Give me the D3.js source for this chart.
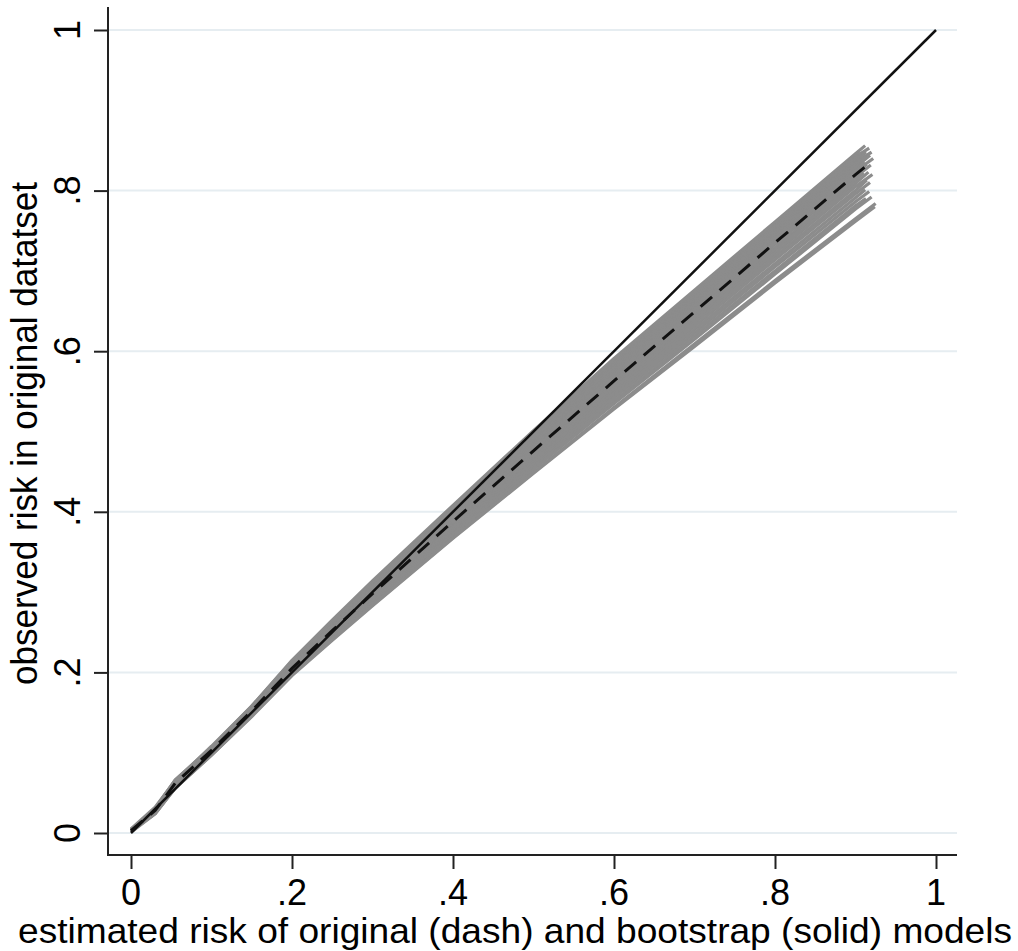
<!DOCTYPE html>
<html>
<head>
<meta charset="utf-8">
<script src="https://cdn.jsdelivr.net/npm/d3@7"></script>
<style>
  html, body { margin: 0; padding: 0; background: #ffffff; }
  svg text { font-family: "Liberation Sans", Arial, Helvetica, sans-serif; fill: #000; }
</style>
</head>
<body>
<svg id="chart" width="1018" height="951"></svg>
<script>
// Estimated-risk grid shared by all calibration curves
const riskGrid = [0, 0.03, 0.055, 0.1, 0.15, 0.2, 0.25, 0.3, 0.4, 0.5, 0.6, 0.7, 0.8, 0.9];

// Original model calibration (dashed), observed risk at each grid point, then its end point
const originalY = [0.003, 0.028, 0.062, 0.103, 0.152, 0.205, 0.252, 0.298, 0.388, 0.476, 0.563, 0.649, 0.735, 0.820];
const originalEnd = [0.915, 0.832];

// Bootstrap model calibrations (solid grey), observed risk at each grid point
const bootstrapY = [
  [0.004, 0.031, 0.066, 0.107, 0.158, 0.215, 0.265, 0.314, 0.408, 0.501, 0.591, 0.676, 0.761, 0.846],
  [0.003, 0.030, 0.064, 0.106, 0.157, 0.213, 0.263, 0.312, 0.406, 0.498, 0.588, 0.674, 0.759, 0.844],
  [0.005, 0.032, 0.065, 0.108, 0.158, 0.214, 0.264, 0.311, 0.405, 0.496, 0.585, 0.671, 0.756, 0.842],
  [0.003, 0.029, 0.063, 0.105, 0.156, 0.211, 0.261, 0.309, 0.403, 0.494, 0.583, 0.669, 0.755, 0.840],
  [0.004, 0.030, 0.066, 0.106, 0.157, 0.212, 0.262, 0.310, 0.401, 0.492, 0.581, 0.667, 0.753, 0.837],
  [0.002, 0.028, 0.062, 0.104, 0.155, 0.210, 0.259, 0.307, 0.400, 0.490, 0.579, 0.665, 0.750, 0.835],
  [0.003, 0.030, 0.064, 0.105, 0.155, 0.209, 0.258, 0.306, 0.398, 0.488, 0.576, 0.662, 0.748, 0.833],
  [0.004, 0.029, 0.063, 0.106, 0.156, 0.210, 0.258, 0.305, 0.397, 0.486, 0.574, 0.660, 0.746, 0.831],
  [0.003, 0.028, 0.061, 0.103, 0.154, 0.208, 0.256, 0.303, 0.395, 0.484, 0.572, 0.658, 0.744, 0.829],
  [0.002, 0.027, 0.062, 0.104, 0.153, 0.207, 0.255, 0.302, 0.393, 0.482, 0.570, 0.656, 0.742, 0.826],
  [0.004, 0.029, 0.063, 0.104, 0.154, 0.208, 0.255, 0.301, 0.392, 0.480, 0.567, 0.653, 0.739, 0.824],
  [0.003, 0.028, 0.062, 0.103, 0.152, 0.206, 0.253, 0.300, 0.390, 0.478, 0.565, 0.651, 0.736, 0.821],
  [0.002, 0.027, 0.060, 0.102, 0.151, 0.205, 0.252, 0.298, 0.388, 0.476, 0.562, 0.647, 0.733, 0.817],
  [0.003, 0.028, 0.061, 0.102, 0.152, 0.204, 0.251, 0.296, 0.385, 0.473, 0.559, 0.644, 0.729, 0.813],
  [0.004, 0.027, 0.060, 0.101, 0.150, 0.203, 0.250, 0.295, 0.384, 0.471, 0.557, 0.641, 0.726, 0.809],
  [0.002, 0.026, 0.059, 0.101, 0.150, 0.203, 0.249, 0.294, 0.382, 0.469, 0.554, 0.638, 0.722, 0.805],
  [0.003, 0.027, 0.060, 0.100, 0.149, 0.202, 0.248, 0.293, 0.381, 0.467, 0.551, 0.635, 0.718, 0.800],
  [0.002, 0.026, 0.058, 0.100, 0.149, 0.201, 0.247, 0.292, 0.379, 0.464, 0.548, 0.631, 0.714, 0.796],
  [0.003, 0.025, 0.059, 0.099, 0.148, 0.201, 0.246, 0.291, 0.377, 0.462, 0.545, 0.627, 0.709, 0.791],
  [0.002, 0.026, 0.058, 0.099, 0.148, 0.200, 0.245, 0.289, 0.375, 0.459, 0.542, 0.623, 0.705, 0.786],
  [0.003, 0.025, 0.057, 0.098, 0.147, 0.199, 0.244, 0.288, 0.373, 0.456, 0.538, 0.619, 0.700, 0.781],
  [0.002, 0.024, 0.057, 0.098, 0.146, 0.198, 0.243, 0.286, 0.371, 0.453, 0.535, 0.615, 0.696, 0.777],
  [0.001, 0.024, 0.056, 0.097, 0.146, 0.197, 0.241, 0.284, 0.368, 0.449, 0.530, 0.609, 0.688, 0.765],
  [0.002, 0.025, 0.056, 0.097, 0.145, 0.196, 0.240, 0.283, 0.367, 0.448, 0.528, 0.606, 0.685, 0.762]
];

// Highest estimated risk reached by each bootstrap curve [estimated, observed]
const bootstrapEnd = [
  [0.912, 0.856], [0.905, 0.848], [0.917, 0.853], [0.909, 0.847], [0.913, 0.848], [0.920, 0.848],
  [0.908, 0.839], [0.915, 0.844], [0.918, 0.844], [0.911, 0.836], [0.922, 0.840], [0.914, 0.833],
  [0.919, 0.832], [0.910, 0.822], [0.916, 0.823], [0.921, 0.820], [0.914, 0.813], [0.918, 0.810],
  [0.912, 0.801], [0.917, 0.799], [0.913, 0.790], [0.920, 0.792], [0.925, 0.784], [0.924, 0.780]
];

// Perfect-calibration reference line
const diagonal = [[0, 0], [1, 1]];

// Axis ticks and labels
const xTicks = [0, 0.2, 0.4, 0.6, 0.8, 1];
const yTicks = [0, 0.2, 0.4, 0.6, 0.8, 1];
const tickLabel = v => v === 0 ? "0" : v === 1 ? "1" : String(v).replace(/^0/, "");
const xTitle = "estimated risk of original (dash) and bootstrap (solid) models";
const yTitle = "observed risk in original datatset";

const svg = d3.select("#chart");

const x = d3.scaleLinear().domain([0, 1]).range([131, 936]);
const y = d3.scaleLinear().domain([0, 1]).range([833, 30]);

const axisLeft = 108, axisBottom = 855, axisRight = 957, axisTop = 7;

// Horizontal grid
svg.append("g")
  .selectAll("line")
  .data(yTicks)
  .join("line")
  .attr("x1", axisLeft + 1).attr("x2", axisRight)
  .attr("y1", d => y(d)).attr("y2", d => y(d))
  .attr("stroke", "#e6edf1").attr("stroke-width", 2);

// Y axis
const gy = svg.append("g")
  .attr("transform", `translate(${axisLeft},0)`)
  .call(d3.axisLeft(y).tickValues(yTicks).tickSize(14).tickPadding(0).tickFormat(""));
gy.select(".domain").remove();
gy.selectAll(".tick line").attr("stroke", "#222").attr("stroke-width", 2);
svg.append("line")
  .attr("x1", axisLeft).attr("x2", axisLeft)
  .attr("y1", axisTop).attr("y2", axisBottom + 1)
  .attr("stroke", "#222").attr("stroke-width", 2);

svg.append("g")
  .selectAll("text")
  .data(yTicks)
  .join("text")
  .attr("transform", d => `translate(80,${y(d)}) rotate(-90)`)
  .attr("text-anchor", "middle")
  .attr("font-size", 36)
  .text(tickLabel);

// X axis
const gx = svg.append("g")
  .attr("transform", `translate(0,${axisBottom})`)
  .call(d3.axisBottom(x).tickValues(xTicks).tickSize(14).tickPadding(0).tickFormat(""));
gx.select(".domain").remove();
gx.selectAll(".tick line").attr("stroke", "#222").attr("stroke-width", 2);
svg.append("line")
  .attr("x1", axisLeft - 1).attr("x2", axisRight)
  .attr("y1", axisBottom).attr("y2", axisBottom)
  .attr("stroke", "#222").attr("stroke-width", 2);

svg.append("g")
  .selectAll("text")
  .data(xTicks)
  .join("text")
  .attr("x", d => x(d))
  .attr("y", 905)
  .attr("text-anchor", "middle")
  .attr("font-size", 36)
  .text(tickLabel);

// Axis titles
svg.append("text")
  .attr("x", 18).attr("y", 943)
  .attr("font-size", 35)
  .attr("textLength", 994)
  .attr("lengthAdjust", "spacingAndGlyphs")
  .text(xTitle);

svg.append("text")
  .attr("transform", `translate(37,685) rotate(-90)`)
  .attr("font-size", 37)
  .attr("textLength", 503)
  .attr("lengthAdjust", "spacingAndGlyphs")
  .text(yTitle);

// Curves
const line = d3.line().x(d => x(d[0])).y(d => y(d[1]));
const toPoints = (ys, end) => riskGrid.map((g, i) => [g, ys[i]]).concat([end]);

svg.append("g")
  .selectAll("path")
  .data(bootstrapY.map((ys, i) => toPoints(ys, bootstrapEnd[i])))
  .join("path")
  .attr("d", line)
  .attr("fill", "none")
  .attr("stroke", "#8c8c8c")
  .attr("stroke-width", 3.2)
  .attr("stroke-linejoin", "round");

svg.append("path")
  .datum(diagonal)
  .attr("d", line)
  .attr("fill", "none")
  .attr("stroke", "#111")
  .attr("stroke-width", 2.5);

svg.append("path")
  .datum(toPoints(originalY, originalEnd))
  .attr("d", line)
  .attr("fill", "none")
  .attr("stroke", "#111")
  .attr("stroke-width", 3)
  .attr("stroke-dasharray", "15,10");
</script>
</body>
</html>
